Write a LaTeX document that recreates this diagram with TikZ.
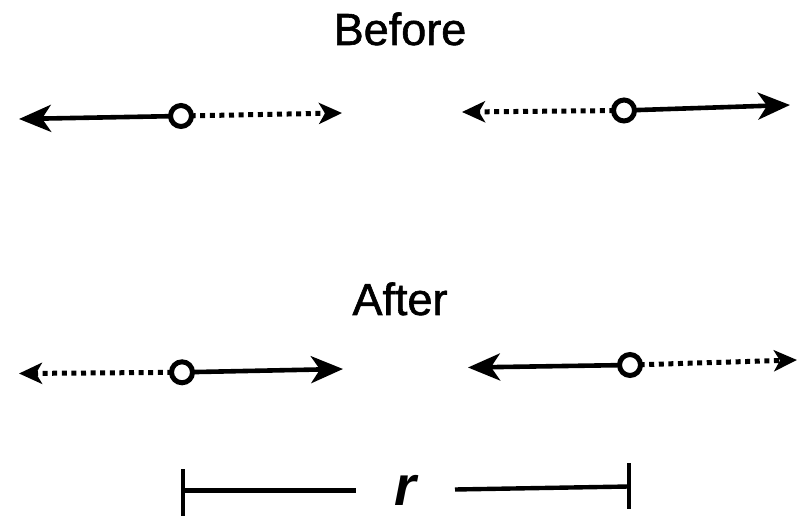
\documentclass[tikz,border=0pt]{standalone}
\usepackage{fontspec}
\setmainfont{Liberation Sans}
\newfontfamily\headfont[FakeBold=1.3]{Liberation Sans}
\usetikzlibrary{arrows.meta}
\begin{document}
\begin{tikzpicture}[x=1pt,y=-1pt,
  particle/.style={circle,draw=black,fill=white,line width=5pt,minimum size=21pt,inner sep=0pt},
  solidarrow/.style={line width=4.6pt,-{Stealth[length=32pt,width=27pt,inset=9pt]}},
  dotarrow/.style={line width=5pt,dash pattern=on 5pt off 4.6pt,-{Stealth[length=23pt,width=21pt,inset=6pt]}},
  title/.style={font=\headfont\fontsize{45}{50}\selectfont,inner sep=0pt,anchor=base},
  tick/.style={line width=3.8pt},
  bar/.style={line width=4.4pt}]
\useasboundingbox (0,0) rectangle (808,518);
% Before
\node[title] (before) at (400,45) {Before};
\coordinate (b1l) at (19,119);
\coordinate (b1r) at (342,113);
\coordinate (b2l) at (462,112);
\coordinate (b2r) at (790,105);
\draw[solidarrow] (181,116) -- (b1l);
\draw[dotarrow] (181,116) -- (b1r);
\node[particle] (p1) at (181,116) {};
\draw[dotarrow] (624,110.5) -- (b2l);
\draw[solidarrow] (624,110.5) -- (b2r);
\node[particle] (p2) at (624,110.5) {};
% After
\node[title] (after) at (400,315) {After};
\coordinate (a1l) at (19,373.5);
\coordinate (a1r) at (343,369);
\coordinate (a2l) at (468,367.5);
\coordinate (a2r) at (797,360);
\draw[dotarrow] (182,372.3) -- (a1l);
\draw[solidarrow] (182,372.3) -- (a1r);
\node[particle] (p3) at (182,372.3) {};
\draw[solidarrow] (630,365) -- (a2l);
\draw[dotarrow] (630,365) -- (a2r);
\node[particle] (p4) at (630,365) {};
% scale bar
\coordinate (t1a) at (183,469);
\coordinate (t1b) at (183,516);
\coordinate (t2a) at (629,463);
\coordinate (t2b) at (629,509);
\draw[tick] (t1a) -- (t1b);
\draw[tick] (t2a) -- (t2b);
\node[font=\bfseries\itshape\fontsize{56}{60}\selectfont,inner sep=0pt] (r) at (405,490) {r};
\coordinate (l1) at (183,490.5);
\coordinate (l1e) at (356,490.5);
\coordinate (l2s) at (455,489.5);
\coordinate (l2) at (629,486.5);
\draw[bar] (l1) -- (l1e);
\draw[bar] (l2s) -- (l2);
\end{tikzpicture}
\end{document}
